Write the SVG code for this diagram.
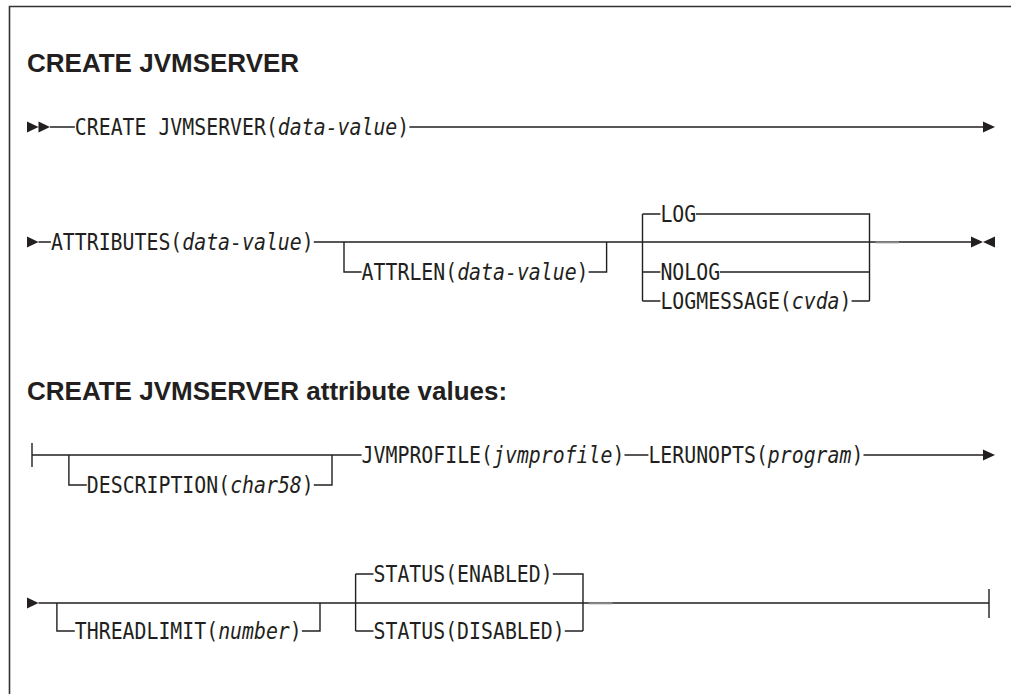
<svg xmlns="http://www.w3.org/2000/svg" width="1011" height="694" viewBox="0 0 1011 694">
<style>
.ln{stroke:#231f20;stroke-width:1.4;fill:none}
.fr{stroke:#333;stroke-width:1.6;fill:none}
.ar{fill:#231f20}
.t{font-family:"DejaVu Sans Mono","Liberation Mono",monospace;font-size:19.85px;fill:#231f20}
.i{font-style:italic}
.h{font-family:"Liberation Sans",Arial,sans-serif;font-weight:bold;font-size:26px;fill:#231f20}
.g{stroke:#8a8a8a;stroke-width:2;fill:none}
</style>
<rect width="1011" height="694" fill="#fff"/>
<path class="fr" d="M9.5,694 V6.5 H1011"/>
<g id="title1"><text class="h" x="27" y="71.5">CREATE JVMSERVER</text></g>
<g id="title2"><text class="h" x="27" y="400">CREATE JVMSERVER attribute values:</text></g>

<g id="connectors">
  <!-- line 1 -->
  <path class="ar" d="M27,121.5 L38.5,127 L27,132.5 Z M38.5,121.5 L50,127 L38.5,132.5 Z"/>
  <path class="ln" d="M50,127 H74.8 M409.4,127 H984"/>
  <path class="ar" d="M983,121.5 L995,127 L983,132.5 Z"/>
  <!-- line 2 -->
  <path class="ar" d="M27,236.5 L38.5,242 L27,247.5 Z"/>
  <path class="ln" d="M38.5,242 H50.9 M313.8,242 H972"/>
  <path class="ln" d="M344,242 V272 H361.6 M588.6,272 H606.6 V242"/>
  <path class="ln" d="M642.5,214 V301 M642.5,214 H660.4 M696,214 H869.5 V301 M642.5,272 H660.4 M720,272 H869.5 M642.5,301 H660.4 M851.6,301 H869.5"/>
  <path class="g" d="M875.5,242.3 H899"/>
  <path class="ar" d="M971,236.5 L983,242 L971,247.5 Z M995,236.5 L983,242 L995,247.5 Z"/>
  <!-- line 3 -->
  <path class="ln" d="M32,443 V467 M32,455 H361.6 M624.5,455 H648.4 M863.5,455 H984"/>
  <path class="ln" d="M68.9,455 V485 H86.8 M313.8,485 H332 V455"/>
  <path class="ar" d="M983,449.5 L995,455 L983,460.5 Z"/>
  <!-- line 4 -->
  <path class="ar" d="M27,597.5 L38.5,603 L27,608.5 Z"/>
  <path class="ln" d="M38.5,603 H989 M989,589 V618"/>
  <path class="ln" d="M56.9,603 V631 H74.8 M301.9,631 H320 V603"/>
  <path class="ln" d="M355.6,574 V631 M355.6,574 H373.5 M552.8,574 H583 V631 M355.6,631 H373.5 M564.8,631 H583"/>
  <path class="g" d="M588.7,603.3 H612.6"/>
</g>

<g id="n-create"><text class="t" transform="translate(74.8,134.5) scale(1,1.12)">CREATE JVMSERVER(<tspan class="i">data-value</tspan>)</text></g>
<g id="n-attributes"><text class="t" transform="translate(50.9,249.5) scale(1,1.12)">ATTRIBUTES(<tspan class="i">data-value</tspan>)</text></g>
<g id="n-attrlen"><text class="t" transform="translate(361.6,279.5) scale(1,1.12)">ATTRLEN(<tspan class="i">data-value</tspan>)</text></g>
<g id="n-log"><text class="t" transform="translate(660.4,221.5) scale(1,1.12)">LOG</text></g>
<g id="n-nolog"><text class="t" transform="translate(660.4,279.5) scale(1,1.12)">NOLOG</text></g>
<g id="n-logmessage"><text class="t" transform="translate(660.4,308.5) scale(1,1.12)">LOGMESSAGE(<tspan class="i">cvda</tspan>)</text></g>
<g id="n-description"><text class="t" transform="translate(86.8,492.5) scale(1,1.12)">DESCRIPTION(<tspan class="i">char58</tspan>)</text></g>
<g id="n-jvmprofile"><text class="t" transform="translate(361.6,462.5) scale(1,1.12)">JVMPROFILE(<tspan class="i">jvmprofile</tspan>)</text></g>
<g id="n-lerunopts"><text class="t" transform="translate(648.4,462.5) scale(1,1.12)">LERUNOPTS(<tspan class="i">program</tspan>)</text></g>
<g id="n-threadlimit"><text class="t" transform="translate(74.8,638.5) scale(1,1.12)">THREADLIMIT(<tspan class="i">number</tspan>)</text></g>
<g id="n-enabled"><text class="t" transform="translate(373.5,581.5) scale(1,1.12)">STATUS(ENABLED)</text></g>
<g id="n-disabled"><text class="t" transform="translate(373.5,638.5) scale(1,1.12)">STATUS(DISABLED)</text></g>
</svg>
